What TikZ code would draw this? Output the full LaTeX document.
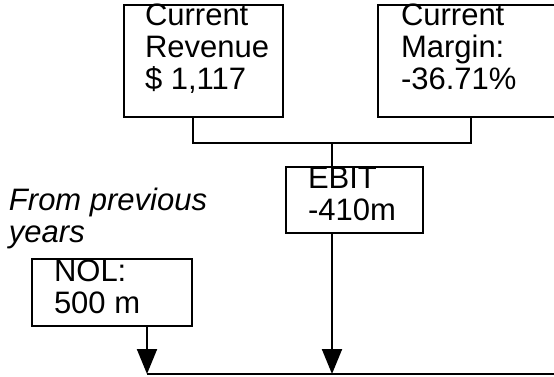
\documentclass[tikz,border=0pt]{standalone}
\usepackage{fontspec}
\setmainfont{Liberation Sans}
\usetikzlibrary{arrows.meta}
\tikzstyle{box}=[rectangle, draw=black, line width=2pt, inner sep=0pt]

\begin{document}
\begin{tikzpicture}[x=1pt,y=-1pt,line width=2pt]
  \tikzstyle{lables}=[font=\fontsize{31}{32}\selectfont,align=left,inner sep=0pt,anchor=base west]
  \tikzstyle{down}=[-{Triangle[width=20pt,length=25pt]}]
  \useasboundingbox (0,0) rectangle (554,376);
  \node (revenue) at (203.5,61) [box,minimum width=159pt,minimum height=112pt] {};
  \node (margin) at (467,61) [box,minimum width=178pt,minimum height=112pt] {};
  \node (ebit) at (354.5,200) [box,minimum width=137pt,minimum height=66pt] {};
  \node (nol) at (112,292.5) [box,minimum width=160pt,minimum height=67pt] {};
  \node[lables] (revenuelabel) at (144,89) {Current\\Revenue\\\$ 1,117};
  \node[lables] (marginlabel) at (400,89) {Current\\Margin:\\-36.71\%};
  \node[lables] (ebitlabel) at (307,220) {EBIT\\-410m};
  \node[lables] (nollabel) at (53,313) {NOL:\\500 m};
  \node[lables,font=\fontsize{31}{32}\selectfont\itshape] (previouslabel) at (8,242) {From previous\\years};
  \coordinate (join) at (332,143);
  \coordinate (sumleft) at (147,374);
  \coordinate (sumright) at (556,374);
  \draw ([xshift=-10.5pt]revenue.south) |- (join) -| ([xshift=4pt]margin.south);
  \draw (join) -- (ebit.north -| join);
  \draw [down] (ebit.south -| join) -- (sumleft -| join);
  \draw [down] ([xshift=35pt]nol.south) -- (sumleft);
  \draw (sumleft) -- (sumright);
\end{tikzpicture}
\end{document}
